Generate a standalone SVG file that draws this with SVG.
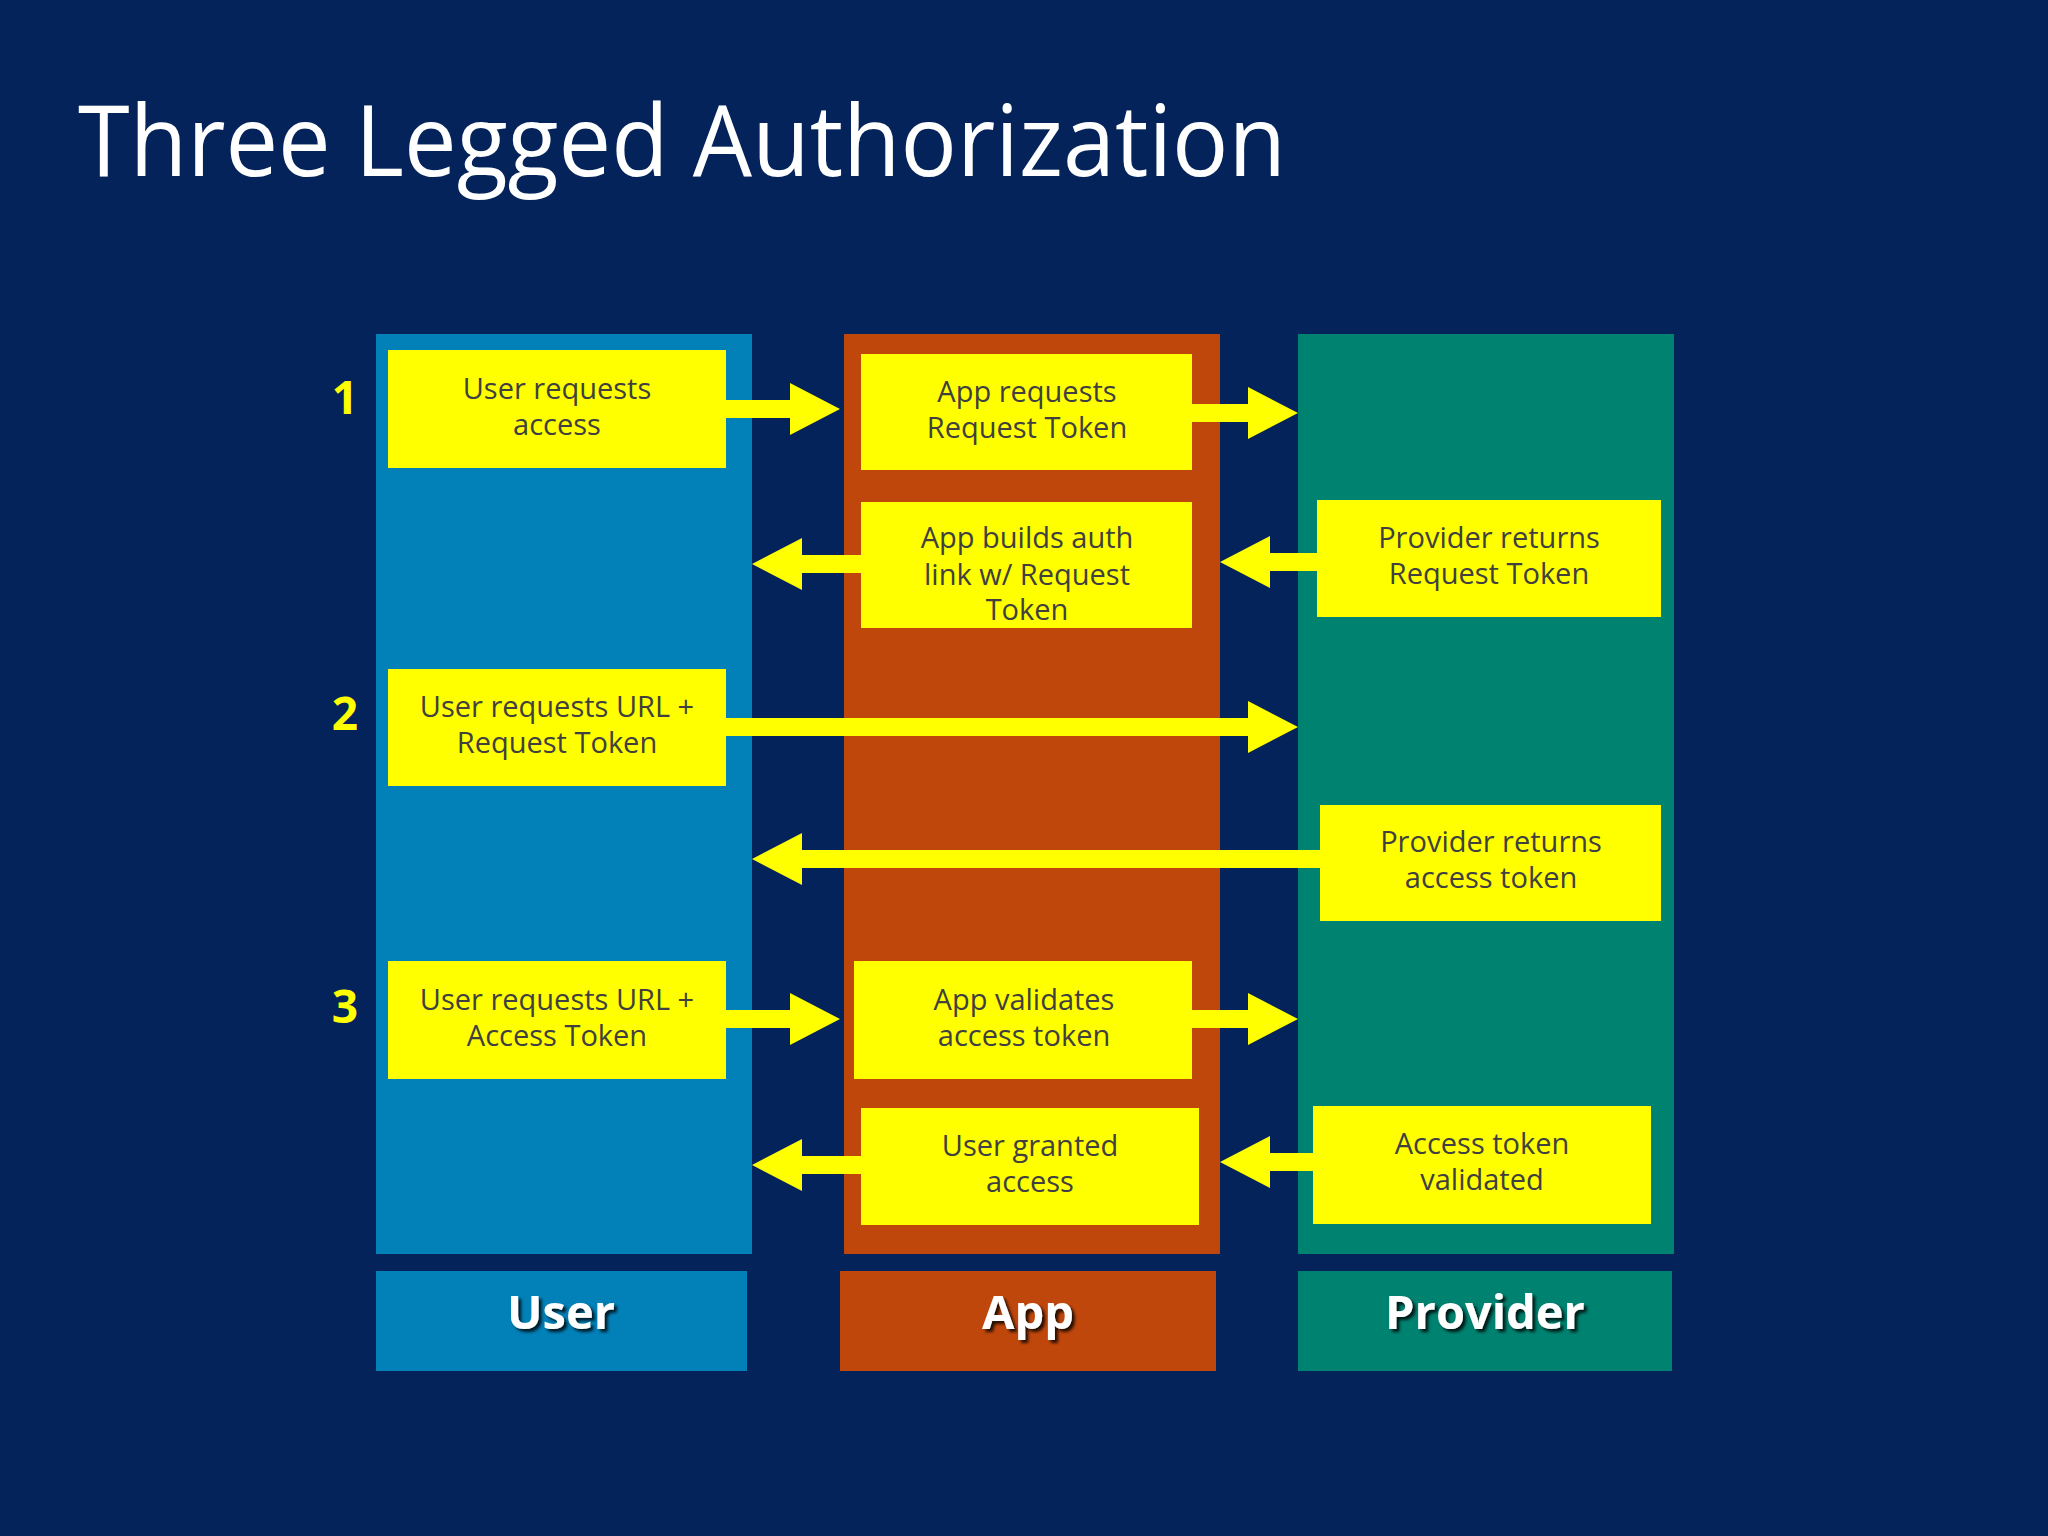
<svg xmlns="http://www.w3.org/2000/svg" width="2048" height="1536" viewBox="0 0 2048 1536">
<defs>
<style>
.bx{fill:#ffff00}
.bt{font-family:"Open Sans","Noto Sans",sans-serif;font-size:29px;fill:#404040;text-anchor:middle}
.num{font-family:"Open Sans","Noto Sans",sans-serif;font-size:46px;font-weight:bold;fill:#ffff00;text-anchor:middle}
.lab{font-family:"Open Sans","Noto Sans",sans-serif;font-size:47px;font-weight:bold;fill:#ffffff;text-anchor:middle;filter:url(#sh)}
.ar{fill:#ffff00}
</style>
<filter id="sh" x="-20%" y="-30%" width="140%" height="160%"><feDropShadow dx="3" dy="3" stdDeviation="1.5" flood-color="#000" flood-opacity="0.8"/></filter>
</defs>
<rect width="2048" height="1536" fill="#04235a"/>
<text x="78" y="176" font-family="Open Sans, Noto Sans, sans-serif" font-size="98" fill="#ffffff" textLength="1208" lengthAdjust="spacingAndGlyphs">Three Legged Authorization</text>
<g id="col-user"><rect x="376" y="334" width="376" height="920" fill="#0280b8"/></g>
<g id="col-app"><rect x="844" y="334" width="376" height="920" fill="#c0470c"/></g>
<g id="col-provider"><rect x="1298" y="334" width="376" height="920" fill="#008270"/></g>
<g id="label-user"><rect x="376" y="1271" width="371" height="100" fill="#0280b8"/><text class="lab" x="561" y="1329">User</text></g>
<g id="label-app"><rect x="840" y="1271" width="376" height="100" fill="#c0470c"/><text class="lab" x="1028" y="1329">App</text></g>
<g id="label-provider"><rect x="1298" y="1271" width="374" height="100" fill="#008270"/><text class="lab" x="1485" y="1329">Provider</text></g>
<g id="numbers"><text class="num" x="345" y="414">1</text><text class="num" x="345" y="730">2</text><text class="num" x="345" y="1023">3</text></g>
<g id="connectors">
<polygon class="ar" points="726,400 790,400 790,383 840,409 790,435 790,418 726,418"/>
<polygon class="ar" points="1192,404 1248,404 1248,387 1298,413 1248,439 1248,422 1192,422"/>
<polygon class="ar" points="861,555 802,555 802,538 752,564 802,590 802,573 861,573"/>
<polygon class="ar" points="1317,553 1270,553 1270,536 1220,562 1270,588 1270,571 1317,571"/>
<polygon class="ar" points="726,718 1248,718 1248,701 1298,727 1248,753 1248,736 726,736"/>
<polygon class="ar" points="1320,850 802,850 802,833 752,859 802,885 802,868 1320,868"/>
<polygon class="ar" points="726,1010 790,1010 790,993 840,1019 790,1045 790,1028 726,1028"/>
<polygon class="ar" points="1192,1010 1248,1010 1248,993 1298,1019 1248,1045 1248,1028 1192,1028"/>
<polygon class="ar" points="861,1156 802,1156 802,1139 752,1165 802,1191 802,1174 861,1174"/>
<polygon class="ar" points="1313,1153 1270,1153 1270,1136 1220,1162 1270,1188 1270,1171 1313,1171"/>
</g>
<g id="n1"><rect class="bx" x="388" y="350" width="338" height="118"/><text class="bt" x="557" y="399">User requests</text><text class="bt" x="557" y="435">access</text></g>
<g id="n2"><rect class="bx" x="861" y="354" width="331" height="116"/><text class="bt" x="1027" y="402">App requests</text><text class="bt" x="1027" y="438">Request Token</text></g>
<g id="n3"><rect class="bx" x="861" y="502" width="331" height="126"/><text class="bt" x="1027" y="548">App builds auth</text><text class="bt" x="1027" y="585">link w/ Request</text><text class="bt" x="1027" y="620">Token</text></g>
<g id="n4"><rect class="bx" x="1317" y="500" width="344" height="117"/><text class="bt" x="1489" y="548">Provider returns</text><text class="bt" x="1489" y="584">Request Token</text></g>
<g id="n5"><rect class="bx" x="388" y="669" width="338" height="117"/><text class="bt" x="557" y="717">User requests URL +</text><text class="bt" x="557" y="753">Request Token</text></g>
<g id="n6"><rect class="bx" x="1320" y="805" width="341" height="116"/><text class="bt" x="1491" y="852">Provider returns</text><text class="bt" x="1491" y="888">access token</text></g>
<g id="n7"><rect class="bx" x="388" y="961" width="338" height="118"/><text class="bt" x="557" y="1010">User requests URL +</text><text class="bt" x="557" y="1046">Access Token</text></g>
<g id="n8"><rect class="bx" x="854" y="961" width="338" height="118"/><text class="bt" x="1024" y="1010">App validates</text><text class="bt" x="1024" y="1046">access token</text></g>
<g id="n9"><rect class="bx" x="861" y="1108" width="338" height="117"/><text class="bt" x="1030" y="1156">User granted</text><text class="bt" x="1030" y="1192">access</text></g>
<g id="n10"><rect class="bx" x="1313" y="1106" width="338" height="118"/><text class="bt" x="1482" y="1154">Access token</text><text class="bt" x="1482" y="1190">validated</text></g>
</svg>
